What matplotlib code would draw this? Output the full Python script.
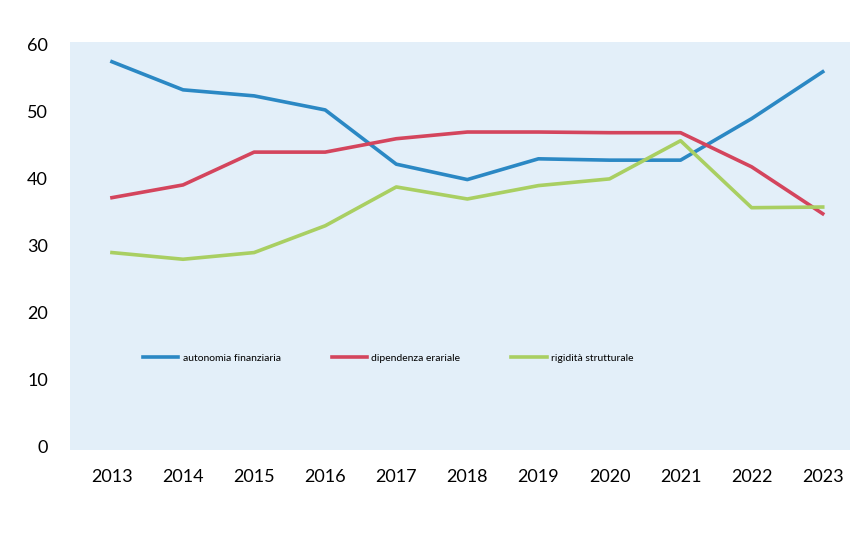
# Indicatori di bilancio 2013-2023

import matplotlib.pyplot as plt

# Data
years = [2013, 2014, 2015, 2016, 2017, 2018, 2019, 2020, 2021, 2022, 2023]
autonomia = [57.5, 53.3, 52.4, 50.3, 42.2, 39.9, 43.0, 42.8, 42.8, 49.0, 56.0]
dipendenza = [37.2, 39.1, 44.0, 44.0, 46.0, 47.0, 47.0, 46.9, 46.9, 41.8, 34.8]
rigidita = [29.0, 28.0, 29.0, 33.0, 38.8, 37.0, 39.0, 40.0, 45.7, 35.7, 35.8]
yticks = [0, 10, 20, 30, 40, 50, 60]

plt.rcParams['font.family'] = ['Lato', 'DejaVu Sans']

fig = plt.figure(figsize=(8.54, 5.38), dpi=100)
ax = fig.add_axes([0.082, 0.164, 0.913, 0.758])
ax.set_facecolor('#e3eff9')

ax.plot(years, autonomia, color='#2b88c4', lw=2.6, label='autonomia finanziaria')
ax.plot(years, dipendenza, color='#d4455d', lw=2.6, label='dipendenza erariale')
ax.plot(years, rigidita, color='#a9cf62', lw=2.6, label='rigidità strutturale')

ax.set_xlim(2012.41, 2023.38)
ax.set_ylim(-0.45, 60.45)
ax.set_xticks(years)
ax.set_yticks(yticks)
ax.tick_params(axis='x', length=0, pad=14, labelsize=13)
ax.tick_params(axis='y', length=0, pad=16, labelsize=13)
for s in ax.spines.values():
    s.set_visible(False)

ax.legend(loc='center', bbox_to_anchor=(0.408, 0.225), ncol=3, frameon=False,
          prop={'size': 7.5}, handlelength=3.4, handletextpad=0.4, columnspacing=4.9)

fig.savefig('out.png', dpi=100)
